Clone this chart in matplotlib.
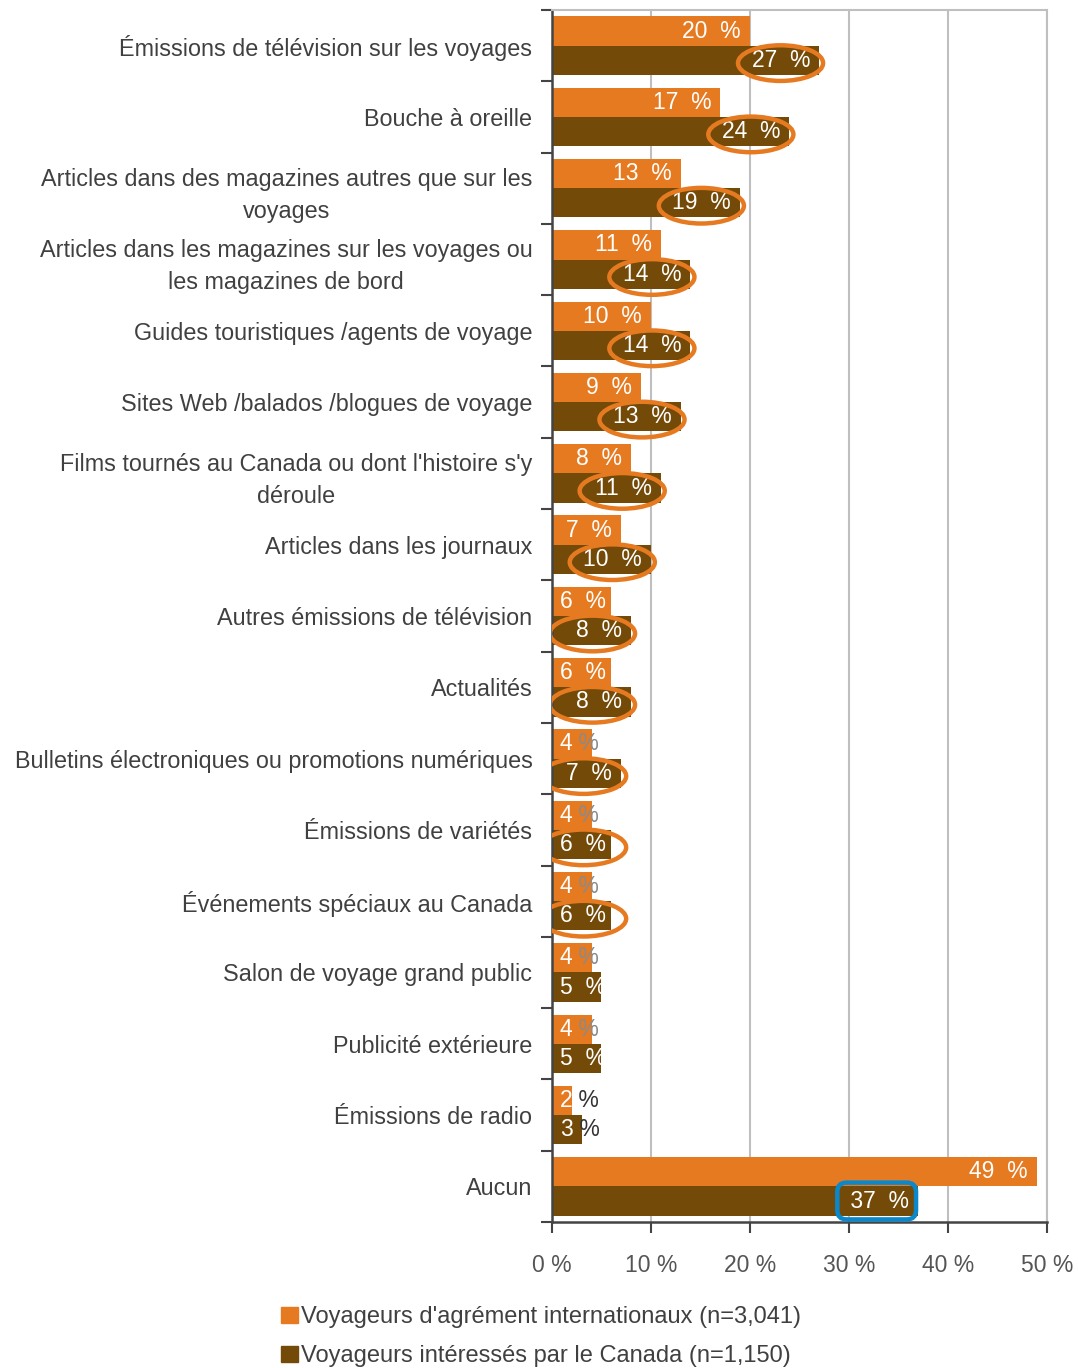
import numpy as np
import matplotlib
matplotlib.use("Agg")
import matplotlib.pyplot as plt
from matplotlib.patches import Ellipse, Patch

categories = [
    "Émissions de télévision sur les voyages",
    "Bouche à oreille",
    "Articles dans des magazines autres que sur les\nvoyages",
    "Articles dans les magazines sur les voyages ou\nles magazines de bord",
    "Guides touristiques /agents de voyage",
    "Sites Web /balados /blogues de voyage",
    "Films tournés au Canada ou dont l'histoire s'y\ndéroule",
    "Articles dans les journaux",
    "Autres émissions de télévision",
    "Actualités",
    "Bulletins électroniques ou promotions numériques",
    "Émissions de variétés",
    "Événements spéciaux au Canada",
    "Salon de voyage grand public",
    "Publicité extérieure",
    "Émissions de radio",
    "Aucun",
]
intl = [20, 17, 13, 11, 10, 9, 8, 7, 6, 6, 4, 4, 4, 4, 4, 2, 49]
canada = [27, 24, 19, 14, 14, 13, 11, 10, 8, 8, 7, 6, 6, 5, 5, 3, 37]
circled = [1] * 13 + [0] * 3 + [0]
xticks = [0, 10, 20, 30, 40, 50]
legend_labels = ["Voyageurs d'agrément internationaux (n=3,041)",
                 "Voyageurs intéressés par le Canada (n=1,150)"]

ORANGE = "#E67A21"
BROWN = "#744A08"
BLUE = "#0A88CC"
TXT = "#404040"

plt.rcParams["font.family"] = ["Liberation Sans", "DejaVu Sans"]

fig = plt.figure(figsize=(10.78, 13.68), dpi=100)
ax = fig.add_axes([0.512, 0.1067, 0.459, 0.886])

n = len(categories)
y = np.arange(n)
h = 0.41
ax.barh(y - h / 2, intl, height=h, color=ORANGE)
ax.barh(y + h / 2, canada, height=h, color=BROWN)

fs = 16.5
for i in range(n):
    for k, (val, yy) in enumerate(((intl[i], y[i] - h / 2),
                                   (canada[i], y[i] + h / 2))):
        boxed = (k == 1 and i == n - 1)
        if val >= 7:
            ax.text(val - 0.9, yy, (" " if boxed else "") + f"{val}  %",
                    ha="right", va="center", color="white", fontsize=fs,
                    bbox=dict(boxstyle="round,pad=0.3,rounding_size=0.4",
                              fc="none", ec=BLUE, lw=3.2) if boxed else None)
        elif val >= 5:
            ax.text(0.8, yy, f"{val}  %", ha="left", va="center",
                    color="white", fontsize=fs)
        else:
            t = ax.text(0.8, yy, f"{val}", ha="left", va="center",
                        color="white", fontsize=fs)
            ax.annotate(" %", xy=(1, 0.5), xycoords=t, ha="left", va="center",
                        color="#8a8a8a" if val == 4 else "#333333", fontsize=fs)
    if circled[i]:
        val = canada[i]
        cx = max(val - 0.9 - 3.0, 3.2)
        ax.add_patch(Ellipse((cx, y[i] + h / 2 + 0.04), 8.6, 0.5,
                             fill=False, ec=ORANGE, lw=3.2, zorder=5))

ax.set_xlim(0, 50)
ax.set_ylim(n - 0.5, -0.5)
ax.set_xticks(xticks)
ax.set_xticklabels([f"{v} %" for v in xticks], fontsize=16.5, color="#555555")
ax.xaxis.grid(True, color="#BFBFBF", lw=1.5)
ax.set_axisbelow(True)

ax.set_yticks(np.arange(n + 1) - 0.5)
ax.set_yticklabels([])
ax.set_yticks(y, minor=True)
ax.set_yticklabels(categories, minor=True, fontsize=16.8, color=TXT,
                   multialignment="center", linespacing=1.5)
ax.tick_params(axis="y", which="minor", length=0, pad=14)
ax.tick_params(axis="y", which="major", length=8, width=1.5, color="#444444")
ax.tick_params(axis="x", length=8, width=1.5, color="#444444", pad=15)

for s in ("top", "right"):
    ax.spines[s].set_color("#BFBFBF")
    ax.spines[s].set_linewidth(1.5)
for s in ("left", "bottom"):
    ax.spines[s].set_color("#444444")
    ax.spines[s].set_linewidth(1.8)

handles = [Patch(color=ORANGE), Patch(color=BROWN)]
fig.legend(handles, legend_labels, loc="upper left",
           bbox_to_anchor=(0.241, 0.0605), frameon=False, fontsize=17,
           handlelength=0.7, handleheight=0.7, handletextpad=0.15,
           labelspacing=0.72, labelcolor=TXT)

fig.savefig("out.png", dpi=100)
